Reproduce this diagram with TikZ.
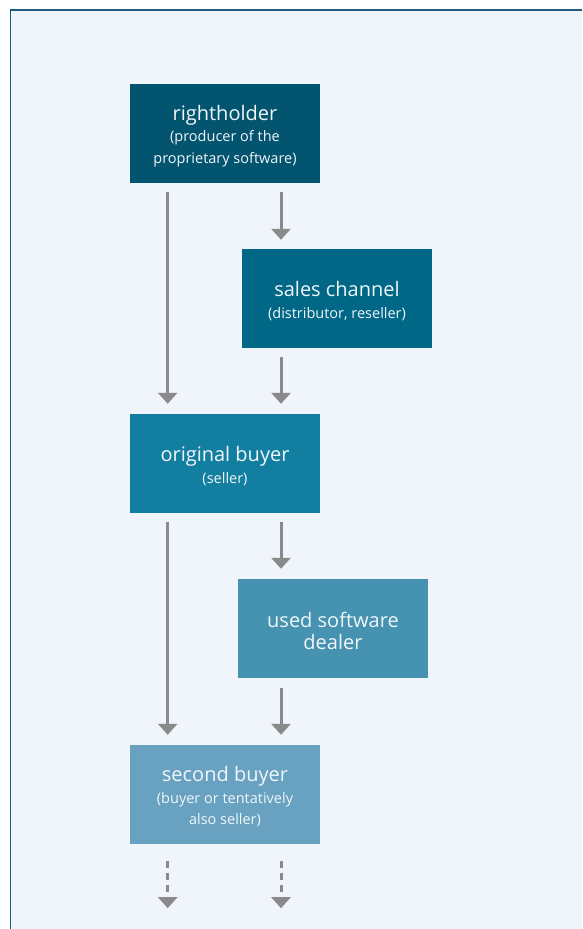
\documentclass[tikz,border=0pt]{standalone}
\usepackage{fontspec}
\setmainfont{Open Sans}
\usetikzlibrary{arrows.meta,calc}
\definecolor{bgc}{HTML}{EFF5FA}
\definecolor{framec}{HTML}{1D5E7E}
\definecolor{cA}{HTML}{03546F}
\definecolor{cB}{HTML}{006786}
\definecolor{cC}{HTML}{137FA0}
\definecolor{cD}{HTML}{4692B1}
\definecolor{cE}{HTML}{68A2C0}
\definecolor{arrc}{HTML}{8A8A8A}
\definecolor{txtc}{HTML}{F0F6F9}
\newcommand{\mainlbl}[1]{{\fontsize{20}{21.5}\selectfont #1}}
\begin{document}
\begin{tikzpicture}[x=1pt,y=-1pt,
  boxnode/.style={rectangle, minimum width=190pt, minimum height=99pt, inner sep=0pt},
  boxtext/.style={align=center, text=txtc, inner sep=0pt, yshift=-2.5pt,
    font=\fontsize{14.5}{21.5}\selectfont},
  arr/.style={draw=arrc, line width=3pt, -{Triangle[width=19pt,length=11pt]}},
  darr/.style={arr, dash pattern=on 7pt off 5pt}]
\useasboundingbox (0,0) rectangle (582,929);
\fill[white] (0,0) rectangle (582,929);
\fill[bgc] (10.8,9.9) rectangle (582,929);
\draw[framec, line width=1.3pt] (10.8,929) -- (10.8,9.9) -- (582,9.9);
\coordinate (xL) at (167.7,0);
\coordinate (xR) at (281,0);
\node[boxnode, fill=cA, label={[boxtext]center:\mainlbl{rightholder}\\(producer of the\\proprietary software)}] (rh) at (225,133.5) {};
\node[boxnode, fill=cB, label={[boxtext]center:\mainlbl{sales channel}\\(distributor, reseller)}] (sc) at (337,298.5) {};
\node[boxnode, fill=cC, label={[boxtext]center:\mainlbl{original buyer}\\(seller)}] (ob) at (225,463.5) {};
\node[boxnode, fill=cD, label={[boxtext]center:\mainlbl{used software}\\\mainlbl{dealer}}] (ud) at (333,628.5) {};
\node[boxnode, fill=cE, label={[boxtext]center:\mainlbl{second buyer}\\(buyer or tentatively\\also seller)}] (sb) at (225,794.5) {};
\draw[arr] ($(rh.south -| xL)+(0,9)$) -- ($(ob.north -| xL)+(0,-10)$);
\draw[arr] ($(rh.south -| xR)+(0,9)$) -- ($(sc.north -| xR)+(0,-9)$);
\draw[arr] ($(sc.south -| xR)+(0,9)$) -- ($(ob.north -| xR)+(0,-10)$);
\draw[arr] ($(ob.south -| xL)+(0,9)$) -- ($(sb.north -| xL)+(0,-10)$);
\draw[arr] ($(ob.south -| xR)+(0,9)$) -- ($(ud.north -| xR)+(0,-10)$);
\draw[arr] ($(ud.south -| xR)+(0,10)$) -- ($(sb.north -| xR)+(0,-10)$);
\draw[darr] ($(sb.south -| xL)+(0,17)$) -- ($(sb.south -| xL)+(0,64)$);
\draw[darr] ($(sb.south -| xR)+(0,17)$) -- ($(sb.south -| xR)+(0,64)$);
\end{tikzpicture}
\end{document}
